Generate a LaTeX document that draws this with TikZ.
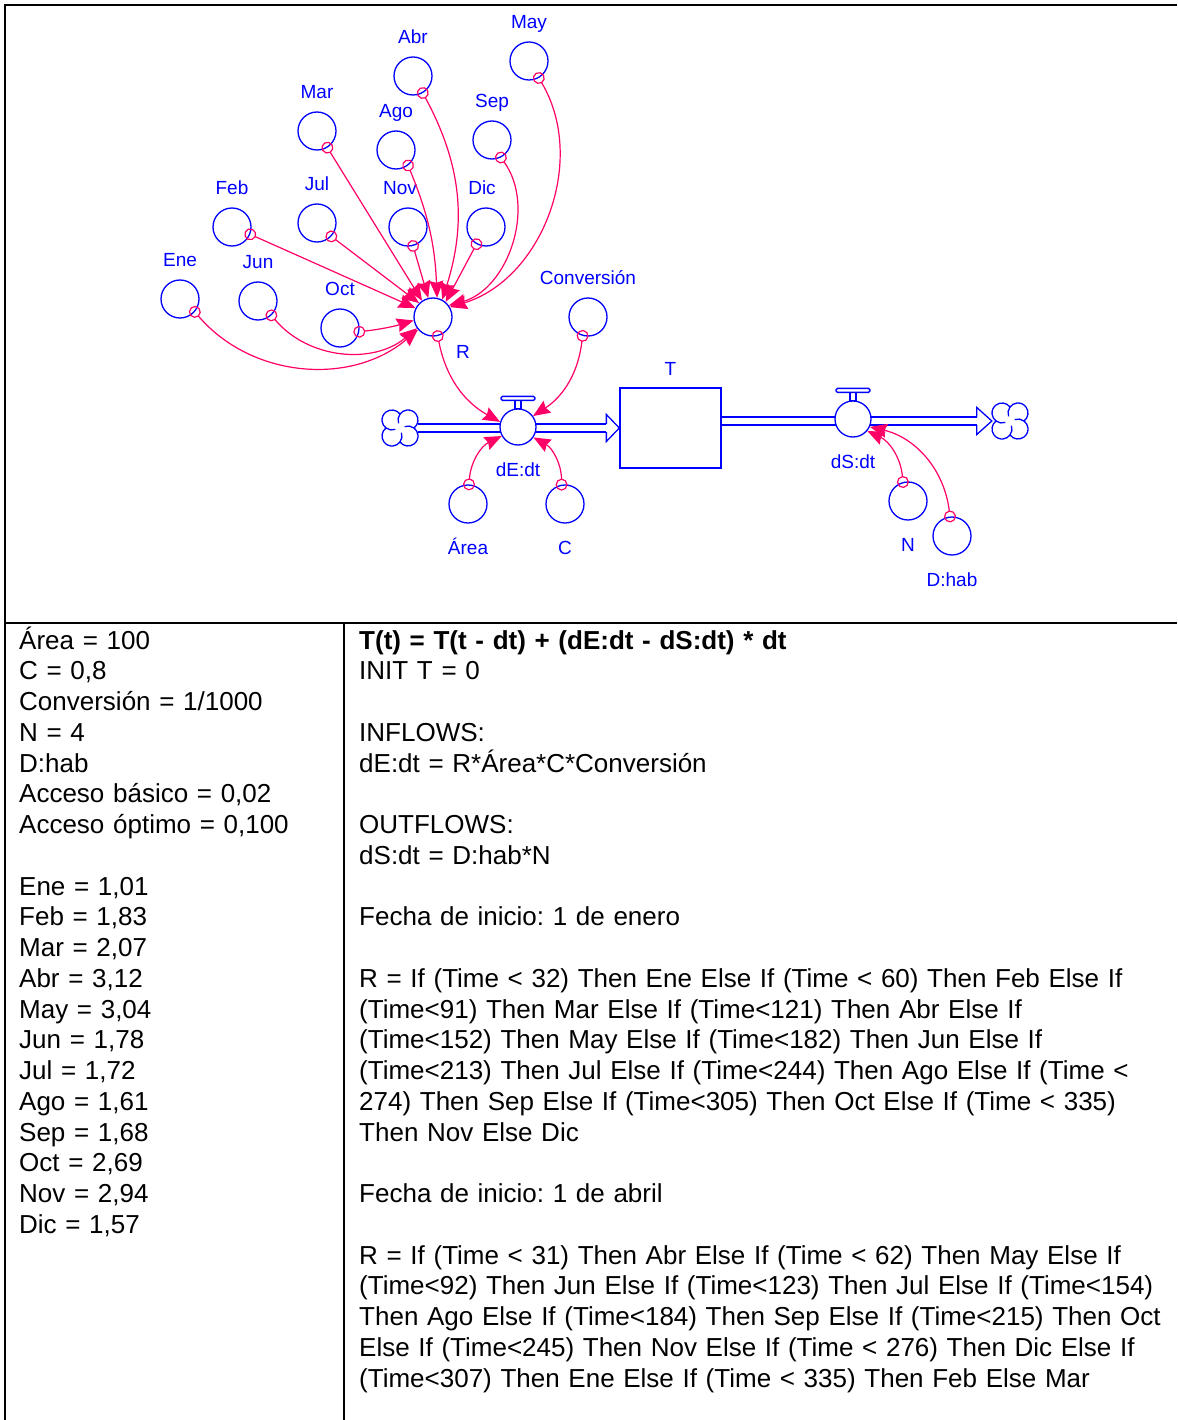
\documentclass[tikz,border=0pt]{standalone}
\usepackage{fontspec}
\setmainfont{Liberation Sans}
\usetikzlibrary{arrows.meta, positioning, backgrounds}
\usepackage{xcolor}
\definecolor{stellablue}{RGB}{0, 0, 255}
\definecolor{linkpink}{RGB}{255, 0, 102}
\frenchspacing
\newcommand{\lblfont}{\fontsize{19}{22}\selectfont}
\newcommand{\tabfont}{\fontsize{26}{30.75}\selectfont}
\tikzset{
  conv/.style={
    circle, draw=stellablue, fill=white, line width=1.3pt,
    minimum size=38pt, inner sep=0pt
  },
  valvebox/.style={
    circle, draw=stellablue, fill=white, line width=1.3pt,
    minimum size=36pt, inner sep=0pt
  },
  stockbox/.style={
    rectangle, draw=stellablue, fill=white, line width=1.3pt,
    minimum width=101pt, minimum height=80pt, inner sep=0pt
  },
  cloudspot/.style={circle, minimum size=36pt, inner sep=0pt},
  every label/.style={
    font=\lblfont, text=stellablue, inner sep=0pt,
    text height=13.6pt, text depth=0pt
  },
  lblup/.style={label={[label distance=13pt]above:#1}},
  lbldn/.style={label={[label distance=17pt]below:#1}},
  link/.style={
    {Circle[open, length=12pt, line width=1.2pt]}-{Stealth[length=17pt, width=14pt, inset=2pt]},
    shorten <=-6pt, line width=1.2pt, color=linkpink
  },
  flowline/.style={draw=stellablue, line width=1.3pt},
  pipe/.style={draw=stellablue, line width=1.2pt, double=white, double distance=6.8pt},
  coltext/.style={anchor=base west, align=left, inner sep=0pt, font=\tabfont},
  tableline/.style={line width=2pt, color=black},
  cloudmark/.pic={
    \draw[flowline] (14,0)
      arc[start angle=-53.13, end angle=143.13, radius=10]
      arc[start angle=36.87, end angle=233.13, radius=10]
      arc[start angle=126.87, end angle=323.13, radius=10]
      arc[start angle=216.87, end angle=413.13, radius=10] -- cycle;
    \draw[flowline] (0,14) arc[start angle=143.13, end angle=200, radius=10];
    \draw[flowline] (-14,0) arc[start angle=233.13, end angle=290, radius=10];
    \draw[flowline] (0,-14) arc[start angle=323.13, end angle=380, radius=10];
    \draw[flowline] (14,0) arc[start angle=413.13, end angle=470, radius=10];
  },
  valvetop/.pic={
    \draw[flowline] (-3,0) rectangle (3,8);
    \draw[flowline, rounded corners=1.5pt] (-17,8) rectangle (17,12);
  },
}

\begin{document}
\begin{tikzpicture}[x=1pt, y=1pt]
  \useasboundingbox (0,0) rectangle (1177,-1420);

  % table frame
  \draw[tableline] (5,-1420) -- (5,-5) -- (1177,-5);
  \draw[tableline] (5,-623) -- (1177,-623);
  \draw[tableline] (344,-623) -- (344,-1420);

  % monthly converters
  \node[conv, lblup=Ene] (Ene) at (180,-299) {};
  \node[conv, lblup=Feb] (Feb) at (232,-227) {};
  \node[conv, lblup=Mar] (Mar) at (317,-131) {};
  \node[conv, lblup=Abr] (Abr) at (413,-76) {};
  \node[conv, lblup=May] (May) at (529,-61) {};
  \node[conv, lblup=Jun] (Jun) at (258,-301) {};
  \node[conv, lblup=Jul] (Jul) at (317,-223) {};
  \node[conv, lblup=Ago] (Ago) at (396,-150) {};
  \node[conv, lblup=Sep] (Sep) at (492,-140) {};
  \node[conv, lblup=Oct] (Oct) at (340,-328) {};
  \node[conv, label={[label distance=13pt, xshift=-8pt]above:Nov}] (Nov) at (408,-227) {};
  \node[conv, label={[label distance=13pt, xshift=-4pt]above:Dic}] (Dic) at (486,-227) {};
  \node[conv, label={[label distance=16pt]-50:R}] (R) at (433,-317) {};
  \node[conv, lblup=Conversión] (Conv) at (588,-317) {};

  % stock and flows
  \node[cloudspot] (srcE) at (400,-428) {};
  \pic at (srcE) {cloudmark};
  \node[stockbox, label={[label distance=12pt]above:T}] (T) at (670.5,-428) {};
  \node[cloudspot] (sinkS) at (1010,-421) {};
  \pic at (sinkS) {cloudmark};
  \node[valvebox, lbldn=dE:dt] (dEdt) at (518,-427) {};
  \pic at (dEdt.north) {valvetop};
  \node[valvebox, lbldn=dS:dt] (dSdt) at (853,-419) {};
  \pic at (dSdt.north) {valvetop};

  \begin{scope}[on background layer]
    \draw[pipe, shorten >=13pt] (srcE) -- (T.west);
    \draw[pipe, shorten >=15pt] ([yshift=7pt]T.east) -- (sinkS);
  \end{scope}
  \draw[flowline] ([xshift=-13pt, yshift=4pt]T.west) -- ++(0,9.5) -- (T.west)
    -- ++(-13,-13.5) -- ++(0,9.5);
  \draw[flowline] ([xshift=-15pt, yshift=4pt]sinkS.west) -- ++(0,9.5) -- (sinkS.west)
    -- ++(-15,-13.5) -- ++(0,9.5);

  \node[conv, lbldn=Área] (Area) at (468,-504) {};
  \node[conv, lbldn=C] (Cc) at (565,-504) {};
  \node[conv, lbldn=N] (N) at (908,-501) {};
  \node[conv, lbldn=D:hab] (Dhab) at (952,-536) {};

  % connectors
  \draw[link] (Ene.-41) to[bend right=45] (R.220);
  \draw[link] (Jun.-47) to[bend right=45] (R.215);
  \draw[link] (Oct.-11) to[bend right=5] (R.190);
  \draw[link] (Feb.-22) -- (R.153);
  \draw[link] (Jul.-43) -- (R.135);
  \draw[link] (Mar.-58) -- (R.124);
  \draw[link] (Nov.-75) -- (R.104);
  \draw[link] (Ago.-52) to[bend left=10] (R.78);
  \draw[link] (Abr.-60) to[bend left=23] (R.62);
  \draw[link] (Dic.-119) -- (R.50);
  \draw[link] (Sep.-63) to[bend left=55] (R.36);
  \draw[link] (May.-60) to[bend left=52] (R.30);
  \draw[link] (R.-76) to[bend right=25] (dEdt.164);
  \draw[link] (Conv.-106) to[bend left=25] (dEdt.36);
  \draw[link] (Area.87) to[bend left=30] (dEdt.209);
  \draw[link] (Cc.100) to[bend right=30] (dEdt.-34);
  \draw[link] (N.105) to[bend right=30] (dSdt.-40);
  \draw[link] (Dhab.96) to[bend right=35] (dSdt.-25);

  % equations
  \node[coltext, text width=320pt] (vals) at (19,-649) {%
    Área = 100\\
    C = 0,8\\
    Conversión = 1/1000\\
    N = 4\\
    D:hab\\
    Acceso básico = 0,02\\
    Acceso óptimo = 0,100\\[30.75pt]
    Ene = 1,01\\
    Feb = 1,83\\
    Mar = 2,07\\
    Abr = 3,12\\
    May = 3,04\\
    Jun = 1,78\\
    Jul = 1,72\\
    Ago = 1,61\\
    Sep = 1,68\\
    Oct = 2,69\\
    Nov = 2,94\\
    Dic = 1,57};
  \node[coltext, text width=840pt] (eqs) at (359,-649) {%
    \textbf{T(t) = T(t - dt) + (dE:dt - dS:dt) * dt}\\
    INIT T = 0\\[30.75pt]
    INFLOWS:\\
    dE:dt = R*Área*C*Conversión\\[30.75pt]
    OUTFLOWS:\\
    dS:dt = D:hab*N\\[30.75pt]
    Fecha de inicio: 1 de enero\\[30.75pt]
    R = If (Time < 32) Then Ene Else If (Time < 60) Then Feb Else If\\
    (Time<91) Then Mar Else If (Time<121) Then Abr Else If\\
    (Time<152) Then May Else If (Time<182) Then Jun Else If\\
    (Time<213) Then Jul Else If (Time<244) Then Ago Else If (Time <\\
    274) Then Sep Else If (Time<305) Then Oct Else If (Time < 335)\\
    Then Nov Else Dic\\[30.75pt]
    Fecha de inicio: 1 de abril\\[30.75pt]
    R = If (Time < 31) Then Abr Else If (Time < 62) Then May Else If\\
    (Time<92) Then Jun Else If (Time<123) Then Jul Else If (Time<154)\\
    Then Ago Else If (Time<184) Then Sep Else If (Time<215) Then Oct\\
    Else If (Time<245) Then Nov Else If (Time < 276) Then Dic Else If\\
    (Time<307) Then Ene Else If (Time < 335) Then Feb Else Mar};
\end{tikzpicture}
\end{document}
